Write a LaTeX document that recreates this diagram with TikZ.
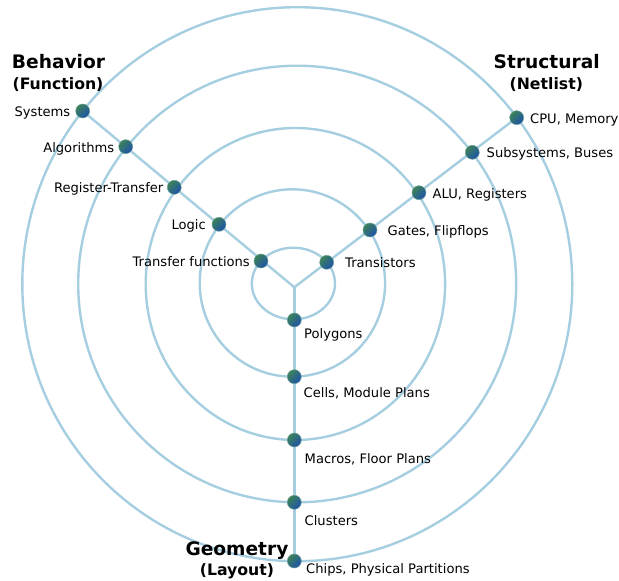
\documentclass[tikz,border=0pt]{standalone}
\usepackage{fontspec}
\setmainfont{DejaVu Sans}
\definecolor{ringblue}{RGB}{166,206,225}
\definecolor{dotgreen}{RGB}{60,130,88}
\definecolor{dotblue}{RGB}{30,82,172}
\definecolor{dotedge}{RGB}{110,160,150}
\tikzset{
  ring/.style={draw=ringblue, line width=2.4pt},
  axisline/.style={draw=ringblue, line width=2.4pt},
  dot/.style={circle, inner sep=0pt, minimum size=14pt, top color=dotgreen, bottom color=dotblue, shading angle=45, draw=dotedge, line width=0.5pt},
  lbl/.style={inner sep=0pt, yshift=-1.6pt, font=\fontsize{13.1}{15}\selectfont, text=black},
  head/.style={inner sep=0pt, anchor=mid, yshift=-1.6pt, font=\fontsize{18.6}{20}\bfseries\selectfont},
  subhead/.style={inner sep=0pt, anchor=mid, yshift=-1.2pt, font=\fontsize{15.7}{17}\bfseries\selectfont}
}
\begin{document}
\begin{tikzpicture}[x=1pt,y=-1pt]
\useasboundingbox (0,0) rectangle (619,581);
% rings
\draw[ring] (293.4,283.5) ellipse [x radius=41.6pt, y radius=35.8pt];
\draw[ring] (292.4,283) ellipse [x radius=92.7pt, y radius=93.7pt];
\draw[ring] (295.4,284) ellipse [x radius=149.7pt, y radius=156pt];
\draw[ring] (297.2,284) ellipse [x radius=219pt, y radius=218.3pt];
\draw[ring] (297.3,284.2) ellipse [x radius=275pt, y radius=277pt];
% junction and axis ends
\coordinate (J) at (294.3,287.3);
\coordinate (pSys) at (82.7,111);
\coordinate (pAlg) at (125.7,146.7);
\coordinate (pRT) at (174.3,187.3);
\coordinate (pLog) at (219,224.3);
\coordinate (pTF) at (261,261);
\coordinate (pCPU) at (516.7,117.7);
\coordinate (pSub) at (472.3,152.3);
\coordinate (pALU) at (419,192.7);
\coordinate (pGat) at (370,230);
\coordinate (pTra) at (326.7,262.3);
\coordinate (pPol) at (294.3,320);
\coordinate (pCel) at (294.3,376.7);
\coordinate (pMac) at (294.3,440);
\coordinate (pClu) at (294.3,502.3);
\coordinate (pChi) at (294.3,561);
% axes
\draw[axisline] (J) -- (pSys);
\draw[axisline] (J) -- (pCPU);
\draw[axisline] (J) -- (pChi);
% dots
\foreach \p in {Sys,Alg,RT,Log,TF,CPU,Sub,ALU,Gat,Tra,Pol,Cel,Mac,Clu,Chi}
  \node[dot] (d\p) at (p\p) {};
% labels behaviour
\node[lbl, anchor=mid east] (lSys) at (70.5,112.5) {Systems};
\node[lbl, anchor=mid east] (lAlg) at (114.5,148) {Algorithms};
\node[lbl, anchor=mid east] (lRT) at (163.5,188.5) {Register-Transfer};
\node[lbl, anchor=mid east] (lLog) at (206,225.5) {Logic};
\node[lbl, anchor=mid east] (lTF) at (250,262) {Transfer functions};
% labels structural
\node[lbl, anchor=mid west] (lCPU) at (530,119) {CPU, Memory};
\node[lbl, anchor=mid west] (lSub) at (486.5,153.5) {Subsystems, Buses};
\node[lbl, anchor=mid west] (lALU) at (432.5,194) {ALU, Registers};
\node[lbl, anchor=mid west] (lGat) at (387.5,231.5) {Gates, Flipflops};
\node[lbl, anchor=mid west] (lTra) at (345,263) {Transistors};
% labels geometry
\node[lbl, anchor=mid west] (lPol) at (304,334.5) {Polygons};
\node[lbl, anchor=mid west] (lCel) at (303.5,393.5) {Cells, Module Plans};
\node[lbl, anchor=mid west] (lMac) at (304.5,459.5) {Macros, Floor Plans};
\node[lbl, anchor=mid west] (lClu) at (304.5,521) {Clusters};
\node[lbl, anchor=mid west] (lChi) at (306,569) {Chips, Physical Partitions};
% headings
\node[head] (hB) at (58.5,64.5) {Behavior};
\node[subhead] (hBs) at (58,86) {(Function)};
\node[head] (hS) at (546.7,64) {Structural};
\node[subhead] (hSs) at (546.3,86) {(Netlist)};
\node[head] (hG) at (237,551) {Geometry};
\node[subhead] (hGs) at (237,572) {(Layout)};
\end{tikzpicture}
\end{document}
